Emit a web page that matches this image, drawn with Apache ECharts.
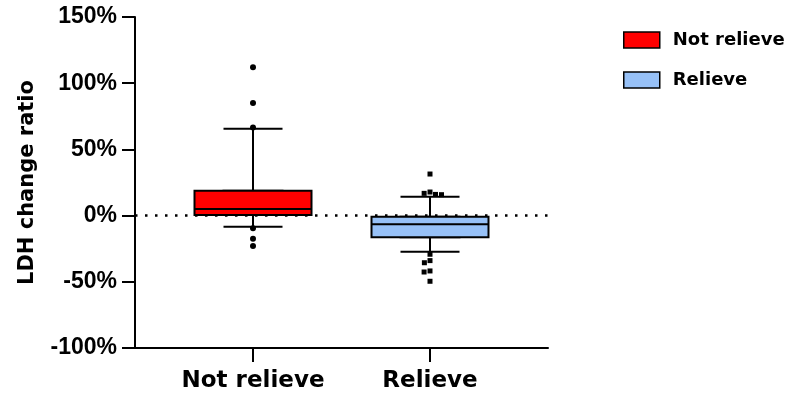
<!DOCTYPE html>
<html>
<head>
<meta charset="utf-8">
<script src="https://cdn.jsdelivr.net/npm/echarts@6/dist/echarts.min.js"></script>
<style>html,body{margin:0;padding:0;background:#fff;}#chart{width:800px;height:403px;}</style>
</head>
<body>
<div id="chart"></div>
<script>
// ---- data ----
const categories = ['Not relieve', 'Relieve'];
// [min(whisker), Q1, median, Q3, max(whisker)] in %
const notRelieveBox = [-8.4, 0.5, 5, 18.8, 65.6];
const relieveBox = [-27.3, -16.4, -6.6, -0.8, 14.3];
// individual points beyond whiskers, in %
const notRelieveOutliers = [112, 85, 66.5, -9.5, -17.4, -23];
const relieveOutliers = [31.4, 17.8, 16.8, 16, 15.8, -29.2, -34, -35.6, -41.8, -42.6, -49.6];
const yMin = -100, yMax = 150, yStep = 50;
const boxColors = ['#ff0000', '#97c1f7'];

// category axis slots (groups sit at slot 2 and 5 of 0..7)
const slotCount = 8;
const groupSlots = [2, 5];
const axisData = [];
for (let i = 0; i < slotCount; i++) axisData.push('');
categories.forEach((c, i) => { axisData[groupSlots[i]] = c; });

const boxes = [notRelieveBox, relieveBox];
const outliers = [notRelieveOutliers, relieveOutliers];

const wideData = boxes.map((b, i) => ({
  value: [groupSlots[i], b[1], b[1], b[2], b[3], b[3]],
  itemStyle: { color: boxColors[i], borderColor: '#000', borderWidth: 2 }
}));
const whiskerData = boxes.map((b, i) => ({
  value: [groupSlots[i], b[0], b[1], b[2], b[3], b[4]]
}));

const catAxisBase = {
  type: 'category',
  data: axisData,
  boundaryGap: false
};

const option = {
  animation: false,
  backgroundColor: '#fff',
  grid: { left: 135, right: 252, top: 17, bottom: 55, containLabel: false },
  legend: {
    orient: 'vertical',
    left: 618,
    top: 26,
    itemWidth: 36,
    itemHeight: 16,
    itemGap: 22,
    textStyle: { fontFamily: 'DejaVu Sans', fontWeight: 'bold', fontSize: 18, color: '#000', padding: [0, 0, 0, 8] },
    data: categories.map((c, i) => ({
      name: c, icon: 'rect',
      itemStyle: { color: boxColors[i], borderColor: '#000', borderWidth: 1.5, opacity: 1 }
    }))
  },
  xAxis: [
    Object.assign({}, catAxisBase, {
      jitter: 28,
      jitterOverlap: false,
      jitterMargin: 1,
      axisLine: { show: true, onZero: false, lineStyle: { color: '#000', width: 2 } },
      axisTick: { show: true, length: 14, lineStyle: { color: '#000', width: 2 },
        interval: (idx, val) => val !== '' },
      axisLabel: { interval: (idx, val) => val !== '', margin: 22, color: '#000',
        fontFamily: 'DejaVu Sans', fontWeight: 'bold', fontSize: 23 },
      splitLine: { show: false }
    }),
    Object.assign({}, catAxisBase, { show: false, axisLine: { onZero: false } })
  ],
  yAxis: {
    type: 'value',
    min: yMin, max: yMax, interval: yStep,
    name: 'LDH change ratio',
    nameLocation: 'middle',
    nameGap: 97,
    nameTextStyle: { fontFamily: 'DejaVu Sans', fontWeight: 'bold', fontSize: 21, color: '#000' },
    axisLine: { show: true, lineStyle: { color: '#000', width: 2 } },
    axisTick: { show: true, length: 13, lineStyle: { color: '#000', width: 2 } },
    axisLabel: { formatter: '{value}%', margin: 18, color: '#000',
      fontFamily: 'Liberation Sans, Arial', fontWeight: 'bold', fontSize: 23 },
    splitLine: { show: false }
  },
  series: [
    {
      name: 'whiskers',
      type: 'boxplot',
      xAxisIndex: 1,
      boxWidth: [59, 59],
      encode: { x: 0, y: [1, 2, 3, 4, 5] },
      itemStyle: { color: '#fff', borderColor: '#000', borderWidth: 2 },
      emphasis: { disabled: true },
      z: 2,
      data: whiskerData
    },
    {
      name: 'boxes',
      type: 'boxplot',
      xAxisIndex: 0,
      boxWidth: [117, 117],
      encode: { x: 0, y: [1, 2, 3, 4, 5] },
      emphasis: { disabled: true },
      z: 3,
      data: wideData
    },
    {
      name: categories[0],
      type: 'scatter',
      xAxisIndex: 0,
      symbol: 'circle',
      symbolSize: 6,
      itemStyle: { color: '#000', opacity: 1 },
      z: 5,
      data: outliers[0].map(v => [groupSlots[0], v])
    },
    {
      name: categories[1],
      type: 'scatter',
      xAxisIndex: 0,
      symbol: 'rect',
      symbolSize: 5,
      itemStyle: { color: '#000', opacity: 1 },
      z: 5,
      data: outliers[1].map(v => [groupSlots[1], v]),
      markLine: {
        silent: true,
        symbol: ['none', 'none'],
        label: { show: false },
        lineStyle: { color: '#000', width: 2.5, type: [2.5, 7.5], opacity: 1 },
        data: [{ yAxis: 0 }]
      }
    }
  ]
};

const chart = echarts.init(document.getElementById('chart'), null, { renderer: 'canvas' });
chart.setOption(option);
</script>
</body>
</html>
